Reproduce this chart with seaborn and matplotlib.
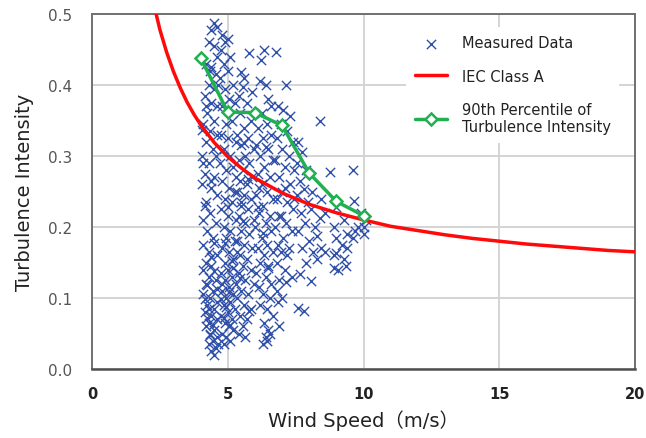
import matplotlib
matplotlib.use("Agg")
import matplotlib.pyplot as plt
import seaborn as sns
import pandas as pd

# ---------------- data ----------------
meas_x = [
 # column 4.0-4.7
 4.5,4.4,4.6,4.3,4.5,4.2,4.6,4.4,4.55,4.3,4.5,4.65,4.15,4.4,4.6,4.25,4.5,4.1,4.35,4.6,4.2,4.45,4.05,4.55,
 4.3,4.15,4.5,4.05,4.4,4.6,4.2,4.35,4.1,4.55,4.25,4.45,4.1,4.3,4.6,4.2,
 4.4,4.1,4.3,4.55,4.2,4.45,4.1,4.35,4.6,4.25,4.5,4.15,4.4,4.6,4.3,4.2,4.5,4.35,4.6,4.45,4.3,4.55,4.5,4.4,4.65,
 4.05,4.1,4.15,4.2,4.35,4.25,4.45,4.5,4.3,4.4,4.6,4.35,4.15,4.25,4.5,4.4,
 # column 4.7-5.3
 4.8,4.9,5.0,4.75,5.1,4.85,5.0,4.7,5.2,4.9,5.05,4.8,5.25,4.95,5.15,4.75,5.0,5.3,4.85,5.1,4.7,5.2,4.95,5.3,
 4.8,5.05,5.25,4.9,5.15,4.75,5.0,5.3,4.85,5.1,4.95,5.25,4.8,5.05,5.2,4.9,5.0,4.75,5.15,4.9,5.3,5.05,4.8,
 5.2,4.95,5.1,4.85,5.25,5.0,4.75,5.15,4.9,5.05,4.8,5.2,4.95,5.1,4.85,
 4.8,4.95,5.1,5.2,4.9,5.05,4.75,5.15,4.85,5.0,
 # column 5.3-6.0
 5.8,5.5,5.6,5.55,5.4,5.9,5.7,5.45,5.85,5.6,5.35,5.75,5.5,5.95,5.65,5.4,5.8,5.55,5.9,5.45,5.7,5.35,5.6,5.85,
 5.5,5.75,5.4,5.95,5.65,5.5,5.8,5.35,5.6,5.9,5.45,5.7,5.55,5.85,5.4,5.65,5.95,5.5,5.75,5.35,5.6,5.85,5.45,
 5.7,5.55,5.4,5.65,5.5,5.75,5.35,5.6,5.45,5.8,5.55,
 # column 6.0-6.7
 6.35,6.24,6.2,6.4,6.5,6.6,6.25,6.45,6.1,6.6,6.3,6.05,6.5,6.2,6.65,6.35,6.1,6.55,6.25,6.45,6.05,6.65,6.3,
 6.15,6.55,6.4,6.0,6.6,6.25,6.45,6.1,6.65,6.35,6.2,6.5,6.05,6.4,6.6,6.15,6.3,6.55,6.2,6.45,6.65,6.35,6.5,
 6.4,6.3,6.45,6.55,6.15,6.3,6.5,6.1,6.4,
 # column 6.7-7.5
 6.79,7.15,6.85,7.05,7.3,6.95,7.2,6.8,7.4,7.0,7.25,6.75,7.1,7.45,6.9,7.3,7.0,6.8,7.2,7.4,6.95,7.15,6.75,
 7.35,7.05,6.85,7.25,6.95,7.2,6.8,7.1,7.35,6.9,7.15,6.8,7.0,6.85,6.9,7.45,7.1,6.9,
 # column 7.5-8.5
 8.4,7.6,7.75,7.55,7.9,7.65,7.8,8.1,7.55,7.95,8.43,8.07,7.7,8.4,7.85,8.2,7.6,8.3,8.0,7.75,8.15,8.3,7.9,
 7.66,8.07,7.6,7.8,8.45,
 # column 8.5-10.2
 8.76,9.6,9.65,9.0,8.6,9.3,9.9,10.0,10.0,8.9,9.4,9.0,9.2,9.4,9.6,8.6,8.9,9.0,9.3,9.05,9.35,8.9,9.8,10.1,9.7,
]
meas_y = [
 0.487,0.478,0.482,0.46,0.455,0.43,0.44,0.425,0.415,0.40,0.395,0.40,0.385,0.375,0.37,0.36,0.35,0.345,0.335,0.33,0.32,0.31,0.30,0.30,
 0.29,0.275,0.27,0.26,0.255,0.245,0.235,0.22,0.21,0.205,0.195,0.185,0.175,0.165,0.16,0.15,
 0.145,0.14,0.13,0.125,0.12,0.11,0.105,0.10,0.095,0.09,0.085,0.08,0.075,0.07,0.065,0.06,0.055,0.05,0.045,0.04,0.035,0.03,0.02,0.025,0.035,
 0.336,0.29,0.23,0.37,0.42,0.118,0.062,0.138,0.085,0.158,0.112,0.048,0.098,0.072,0.178,0.265,
 0.47,0.46,0.465,0.45,0.44,0.43,0.42,0.41,0.40,0.395,0.38,0.37,0.375,0.345,0.35,0.33,0.325,0.32,0.31,0.30,0.29,0.285,0.28,0.27,
 0.265,0.255,0.25,0.24,0.235,0.225,0.215,0.21,0.20,0.195,0.185,0.18,0.17,0.165,0.155,0.15,0.14,0.135,0.13,0.125,0.12,0.115,0.11,
 0.105,0.10,0.095,0.09,0.085,0.08,0.075,0.07,0.065,0.06,0.05,0.055,0.045,0.04,0.035,
 0.12,0.088,0.062,0.142,0.178,0.108,0.098,0.152,0.072,0.228,
 0.445,0.418,0.41,0.397,0.385,0.39,0.375,0.36,0.35,0.34,0.33,0.325,0.315,0.31,0.30,0.295,0.29,0.28,0.27,0.265,0.26,0.25,0.245,0.24,
 0.23,0.225,0.215,0.21,0.205,0.195,0.19,0.18,0.175,0.17,0.16,0.155,0.145,0.14,0.135,0.125,0.12,0.11,0.105,0.10,0.09,0.085,0.075,
 0.07,0.06,0.05,0.045,0.235,0.268,0.165,0.318,0.128,0.082,0.208,
 0.449,0.435,0.405,0.40,0.38,0.37,0.36,0.345,0.34,0.33,0.325,0.315,0.31,0.30,0.295,0.285,0.275,0.27,0.26,0.25,0.245,0.24,0.23,
 0.22,0.215,0.205,0.20,0.195,0.185,0.175,0.17,0.165,0.16,0.15,0.145,0.135,0.13,0.12,0.115,0.105,0.10,0.09,0.085,0.075,0.065,0.055,
 0.045,0.035,0.04,0.05,0.255,0.192,0.142,0.228,0.312,
 0.446,0.40,0.37,0.365,0.356,0.345,0.335,0.325,0.32,0.31,0.30,0.295,0.285,0.28,0.27,0.26,0.25,0.24,0.235,0.225,0.215,0.205,0.20,
 0.195,0.185,0.175,0.17,0.165,0.16,0.15,0.14,0.13,0.125,0.123,0.11,0.10,0.095,0.06,0.24,0.255,0.215,
 0.35,0.32,0.305,0.29,0.28,0.265,0.254,0.25,0.245,0.235,0.24,0.226,0.22,0.212,0.205,0.20,0.195,0.188,0.18,0.17,0.165,0.155,0.15,
 0.134,0.124,0.086,0.082,0.17,
 0.278,0.28,0.237,0.228,0.22,0.21,0.22,0.20,0.19,0.20,0.19,0.185,0.175,0.17,0.185,0.165,0.16,0.163,0.155,0.14,0.145,0.142,0.20,0.21,0.195,
]

iec_speed = [2.3, 2.5, 2.75, 3.0, 3.25, 3.5, 3.75, 4.0, 4.5, 5.0, 5.5, 6.0, 7.0, 8.0, 9.0, 10.0,
             11.0, 12.0, 13.0, 14.0, 15.0, 16.0, 17.0, 18.0, 19.0, 20.0]
iec_ti = [0.510, 0.478, 0.446, 0.419, 0.396, 0.376, 0.359, 0.344, 0.319, 0.299, 0.283, 0.269,
          0.248, 0.232, 0.220, 0.210, 0.201, 0.195, 0.189, 0.184, 0.180, 0.176, 0.173, 0.170,
          0.167, 0.165]

p90_speed = [4, 5, 6, 7, 8, 9, 10]
p90_ti = [0.438, 0.362, 0.361, 0.343, 0.276, 0.236, 0.216]

n = min(len(meas_x), len(meas_y))
meas = pd.DataFrame({"x": meas_x[:n], "y": meas_y[:n]})
iec = pd.DataFrame({"x": iec_speed, "y": iec_ti})
p90 = pd.DataFrame({"x": p90_speed, "y": p90_ti})

# ---------------- plot ----------------
sns.set_theme(style="white")
plt.rcParams["font.family"] = ["DejaVu Sans", "Noto Sans CJK JP"]

fig = plt.figure(figsize=(6.46, 4.39), dpi=100)
ax = fig.add_axes([92/646, 1-370/439, (635-92)/646, (370-15)/439])

sns.scatterplot(data=meas, x="x", y="y", ax=ax, marker="x", s=45,
                color="#2f50a8", linewidth=1.0, label="Measured Data", zorder=3)
sns.lineplot(data=iec, x="x", y="y", ax=ax, color="#ff0a0a", linewidth=2.5,
             label="IEC Class A", zorder=4, sort=False, estimator=None)
sns.lineplot(data=p90, x="x", y="y", ax=ax, color="#20b050", linewidth=2.5,
             marker="D", markersize=6.5, markerfacecolor="white",
             markeredgecolor="#20b050", markeredgewidth=1.8,
             label="90th Percentile of\nTurbulence Intensity", zorder=5,
             sort=False, estimator=None)

ax.set_xlim(0, 20)
ax.set_ylim(0, 0.5)
ax.set_xticks([0, 5, 10, 15, 20])
ax.set_yticks([0.0, 0.1, 0.2, 0.3, 0.4, 0.5])
ax.set_yticklabels(["0.0", "0.1", "0.2", "0.3", "0.4", "0.5"])
ax.grid(True, color="#d4d4d4", linewidth=1.4)
ax.set_axisbelow(True)
for s in ax.spines.values():
    s.set_color("#707070")
    s.set_linewidth(1.4)
ax.spines["bottom"].set_color("#505050")
ax.spines["bottom"].set_linewidth(1.8)

ax.tick_params(axis="y", direction="in", length=6, width=1.2, color="#888888",
               labelsize=11, labelcolor="#555555", pad=14)
ax.tick_params(axis="x", direction="in", length=6, width=1.2, color="#888888",
               labelsize=10.5, labelcolor="#222222", pad=12)
for lab in ax.get_xticklabels():
    lab.set_fontweight("bold")

ax.set_xlabel("Wind Speed（m/s）", fontsize=14, color="#222222", labelpad=6)
ax.set_ylabel("Turbulence Intensity", fontsize=14, color="#222222", labelpad=10)

leg = ax.legend(loc="upper left", bbox_to_anchor=(0.565, 0.985), frameon=True,
                facecolor="white", edgecolor="none", framealpha=1.0,
                fontsize=10.5, handlelength=2.2, handletextpad=1.0,
                labelspacing=1.25, borderpad=0.6)
for t in leg.get_texts():
    t.set_color("#222222")

fig.savefig("out.png", dpi=100)
